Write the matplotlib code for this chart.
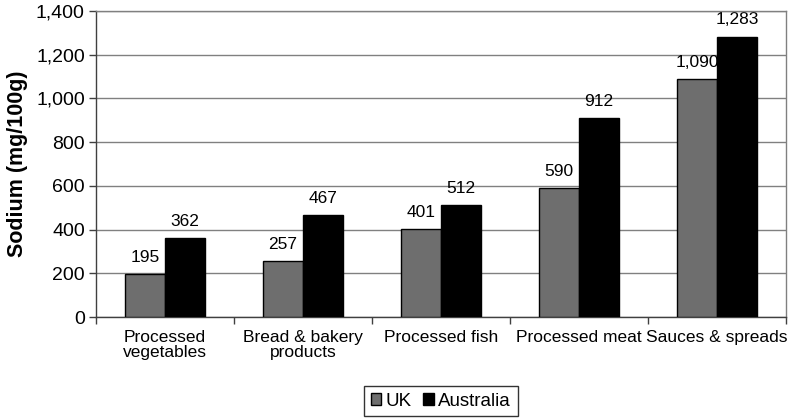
import matplotlib.pyplot as plt
import numpy as np

categories = ['Processed\nvegetables', 'Bread & bakery\nproducts', 'Processed fish',
              'Processed meat', 'Sauces & spreads']
uk = [195, 257, 401, 590, 1090]
australia = [362, 467, 512, 912, 1283]
yticks = [0, 200, 400, 600, 800, 1000, 1200, 1400]

plt.rcParams['font.family'] = ['Liberation Sans', 'DejaVu Sans']

fig = plt.figure(figsize=(7.97, 4.19), dpi=100)
ax = fig.add_axes([0.1204, 0.2434, 0.8657, 0.7303])

x = np.arange(len(categories))
w = 0.29
b1 = ax.bar(x - w / 2, uk, w, color='#6e6e6e', edgecolor='black', linewidth=1, label='UK', zorder=3)
b2 = ax.bar(x + w / 2, australia, w, color='black', edgecolor='black', linewidth=1, label='Australia', zorder=3)

# labels sit under the bars, so "1,090" gets clipped by the neighbour like the original
for bars, vals in ((b1, uk), (b2, australia)):
    for r, v in zip(bars, vals):
        ax.text(r.get_x() + r.get_width() / 2, v + 42, f'{v:,}', ha='center', va='bottom',
                fontsize=12.5, zorder=2)

ax.set_xlim(-0.5, len(categories) - 0.5)
ax.set_ylim(0, 1400)
ax.set_yticks(yticks)
ax.set_yticklabels([f'{t:,}' for t in yticks], fontsize=14)
ax.yaxis.grid(True, color='#808080', linewidth=1, zorder=0)
ax.tick_params(axis='y', length=5, width=1, color='#404040', pad=3)

ax.set_xticks(np.arange(len(categories) + 1) - 0.5)
ax.set_xticklabels([])
ax.set_xticks(x, minor=True)
ax.set_xticklabels(categories, minor=True, fontsize=12.5, linespacing=1.05)
ax.tick_params(axis='x', which='major', length=5, width=1, color='#404040')
ax.tick_params(axis='x', which='minor', length=0, pad=9)

ax.set_ylabel('Sodium (mg/100g)', fontsize=15.5, fontweight='bold', labelpad=6)

for s in ['left', 'bottom']:
    ax.spines[s].set_color('#404040')
    ax.spines[s].set_linewidth(1)
for s in ['top', 'right']:
    ax.spines[s].set_color('#808080')
    ax.spines[s].set_linewidth(1)

ax.legend(loc='upper center', bbox_to_anchor=(0.5, -0.226), ncol=2, frameon=True,
          fancybox=False, edgecolor='black', fontsize=13.5, handlelength=0.55, handleheight=0.55,
          handletextpad=0.25, columnspacing=0.6, borderpad=0.35, borderaxespad=0)

fig.savefig('out.png', dpi=100)
